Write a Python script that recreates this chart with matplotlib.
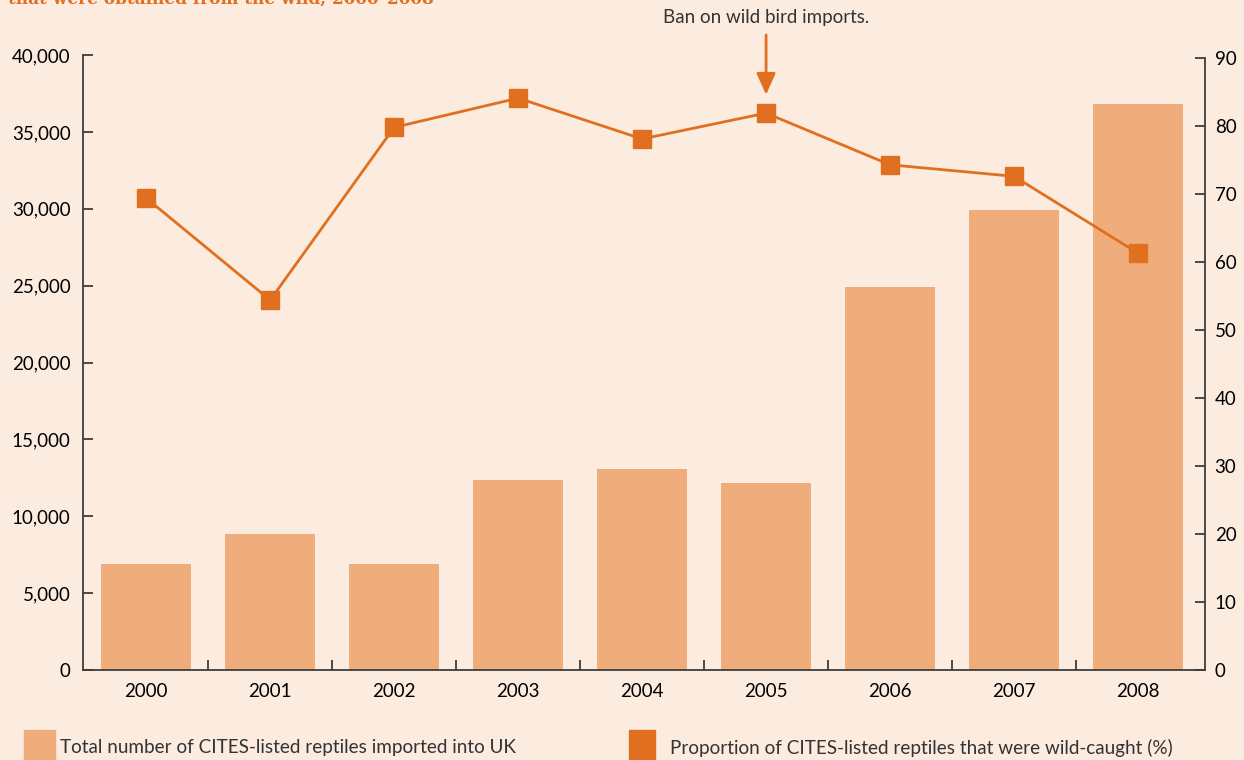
import numpy as np
import matplotlib
matplotlib.use("Agg")
import matplotlib.pyplot as plt
from matplotlib.patches import Rectangle
from matplotlib.ticker import FuncFormatter, FixedLocator

years = ["2000", "2001", "2002", "2003", "2004", "2005", "2006", "2007", "2008"]
total_imports = [6900, 8850, 6900, 12350, 13050, 12150, 24900, 29900, 36800]
wild_pct = [69.4, 54.4, 79.8, 84.1, 78.1, 81.9, 74.3, 72.6, 61.3]
left_ticks = [0, 5000, 10000, 15000, 20000, 25000, 30000, 35000, 40000]
right_ticks = [0, 10, 20, 30, 40, 50, 60, 70, 80, 90]

bg = "#fcebdf"
bar_col = "#eead7b"
line_col = "#e0701f"
spine_col = "#3c3c3c"

plt.rcParams["font.family"] = ["Lato", "DejaVu Sans"]

fig = plt.figure(figsize=(12.44, 7.6), dpi=100, facecolor=bg)
ax = fig.add_axes([0.0667, 0.1184, 0.9019, 0.8092])
ax.set_facecolor(bg)
x = np.arange(len(years))

ax.bar(x, total_imports, width=0.73, color=bar_col, zorder=1)
ax.set_xlim(-0.51, 8.54)
ax.set_ylim(0, 40000)
ax.yaxis.set_major_locator(FixedLocator(left_ticks))
ax.yaxis.set_major_formatter(FuncFormatter(lambda v, p: f"{int(v):,}"))
ax.set_xticks(x)
ax.set_xticklabels(years)
ax.set_xticks(x[:-1] + 0.5, minor=True)
ax.tick_params(axis="x", which="major", length=0, pad=9, labelsize=13.5, labelcolor="black")
ax.tick_params(axis="x", which="minor", direction="in", length=7, width=1.3, color=spine_col)
ax.tick_params(axis="y", direction="in", length=7, width=1.3, color=spine_col, pad=9,
               labelsize=13.5, labelcolor="black")
for s in ["top", "right"]:
    ax.spines[s].set_visible(False)
for s in ["left", "bottom"]:
    ax.spines[s].set_color(spine_col)
    ax.spines[s].set_linewidth(1.3)

ax2 = ax.twinx()
ax2.plot(x, wild_pct, color=line_col, lw=2, marker="s", markersize=13.5, zorder=3)
ax2.set_ylim(0, 90.44)
ax2.yaxis.set_major_locator(FixedLocator(right_ticks))
ax2.tick_params(axis="y", direction="in", length=7, width=1.3, color=spine_col, pad=7,
                labelsize=13.5, labelcolor="black")
for s in ["top", "left", "bottom"]:
    ax2.spines[s].set_visible(False)
ax2.spines["right"].set_color(spine_col)
ax2.spines["right"].set_linewidth(1.3)
ax2.spines["right"].set_bounds(0, 90)

# annotation for the 2005 ban
ax2.text(5, 95.9, "Ban on wild bird imports.", ha="center", va="center", fontsize=13.5,
         color="#333333", clip_on=False)
ax2.annotate("", xy=(5, 84.6), xytext=(5, 93.4), annotation_clip=False,
             arrowprops=dict(arrowstyle="-|>,head_length=1.3,head_width=0.58", color=line_col,
                             lw=2, shrinkA=0, shrinkB=0))

# cut-off title at the very top
fig.text(0.0065, 1 - 4 / 760, "that were obtained from the wild, 2000\u20132008", family="DejaVu Serif",
         weight="bold", fontsize=12.2, color=line_col, ha="left", va="baseline")

# legend
fig.patches.append(Rectangle((24 / 1244, 0), 31 / 1244, 30 / 760, transform=fig.transFigure,
                             color=bar_col))
fig.text(60 / 1244, 12 / 760, "Total number of CITES-listed reptiles imported into UK",
         fontsize=13.6, color="#333333", ha="left", va="center")
fig.patches.append(Rectangle((629 / 1244, 0), 26 / 1244, 30 / 760, transform=fig.transFigure,
                             color=line_col))
fig.text(670 / 1244, 12 / 760, "Proportion of CITES-listed reptiles that were wild-caught (%)",
         fontsize=13.6, color="#333333", ha="left", va="center")

fig.savefig("out.png", dpi=100, facecolor=bg)
